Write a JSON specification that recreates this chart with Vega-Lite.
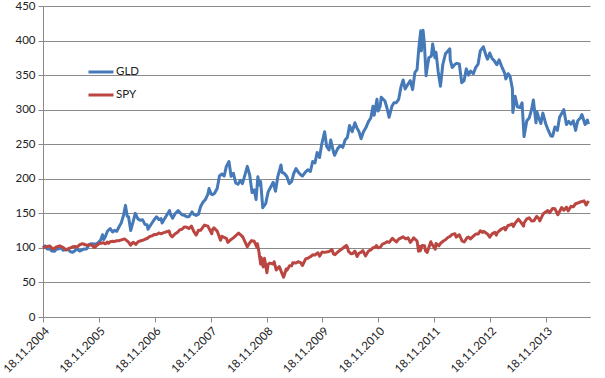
{
  "$schema": "https://vega.github.io/schema/vega-lite/v6.json",
  "width": 547,
  "height": 311,
  "autosize": {"type": "none"},
  "padding": {"left": 43, "top": 6, "right": 15, "bottom": 61},
  "background": "white",
  "config": {
    "view": {"stroke": null},
    "font": "Lato",
    "axis": {"labelFont": "Lato", "labelFontSize": 11.5, "labelColor": "#222", "domainColor": "#8a8a8a", "tickColor": "#8a8a8a", "gridColor": "#8a8a8a", "tickSize": 5, "title": null}
  },
  "data": {"values": [
    {"date":"2004-11-18","ticker":"GLD","value":100},
    {"date":"2004-12-01","ticker":"GLD","value":103},
    {"date":"2004-12-15","ticker":"GLD","value":98.5},
    {"date":"2004-12-31","ticker":"GLD","value":98.7},
    {"date":"2005-01-14","ticker":"GLD","value":95.5},
    {"date":"2005-01-31","ticker":"GLD","value":95},
    {"date":"2005-02-15","ticker":"GLD","value":98.5},
    {"date":"2005-02-28","ticker":"GLD","value":98.5},
    {"date":"2005-03-11","ticker":"GLD","value":100.5},
    {"date":"2005-03-31","ticker":"GLD","value":96.5},
    {"date":"2005-04-15","ticker":"GLD","value":97.5},
    {"date":"2005-04-29","ticker":"GLD","value":98},
    {"date":"2005-05-16","ticker":"GLD","value":94.5},
    {"date":"2005-05-31","ticker":"GLD","value":93.7},
    {"date":"2005-06-15","ticker":"GLD","value":96},
    {"date":"2005-06-24","ticker":"GLD","value":99},
    {"date":"2005-07-15","ticker":"GLD","value":95.5},
    {"date":"2005-07-29","ticker":"GLD","value":96.7},
    {"date":"2005-08-15","ticker":"GLD","value":98.5},
    {"date":"2005-08-31","ticker":"GLD","value":98.5},
    {"date":"2005-09-15","ticker":"GLD","value":105},
    {"date":"2005-09-30","ticker":"GLD","value":106},
    {"date":"2005-10-14","ticker":"GLD","value":105.5},
    {"date":"2005-10-31","ticker":"GLD","value":105.7},
    {"date":"2005-11-15","ticker":"GLD","value":108},
    {"date":"2005-11-30","ticker":"GLD","value":111.5},
    {"date":"2005-12-12","ticker":"GLD","value":119},
    {"date":"2005-12-20","ticker":"GLD","value":112},
    {"date":"2005-12-30","ticker":"GLD","value":116},
    {"date":"2006-01-13","ticker":"GLD","value":124},
    {"date":"2006-01-31","ticker":"GLD","value":128},
    {"date":"2006-02-15","ticker":"GLD","value":123},
    {"date":"2006-02-28","ticker":"GLD","value":125.5},
    {"date":"2006-03-15","ticker":"GLD","value":124},
    {"date":"2006-03-31","ticker":"GLD","value":131},
    {"date":"2006-04-13","ticker":"GLD","value":136},
    {"date":"2006-04-28","ticker":"GLD","value":147},
    {"date":"2006-05-11","ticker":"GLD","value":161.5},
    {"date":"2006-05-22","ticker":"GLD","value":146},
    {"date":"2006-05-31","ticker":"GLD","value":145},
    {"date":"2006-06-14","ticker":"GLD","value":125},
    {"date":"2006-06-30","ticker":"GLD","value":138},
    {"date":"2006-07-14","ticker":"GLD","value":150},
    {"date":"2006-07-31","ticker":"GLD","value":142},
    {"date":"2006-08-15","ticker":"GLD","value":140},
    {"date":"2006-08-31","ticker":"GLD","value":140.6},
    {"date":"2006-09-15","ticker":"GLD","value":134},
    {"date":"2006-09-29","ticker":"GLD","value":133.6},
    {"date":"2006-10-05","ticker":"GLD","value":127},
    {"date":"2006-10-31","ticker":"GLD","value":136},
    {"date":"2006-11-15","ticker":"GLD","value":141},
    {"date":"2006-11-30","ticker":"GLD","value":145},
    {"date":"2006-12-15","ticker":"GLD","value":141},
    {"date":"2006-12-29","ticker":"GLD","value":142.4},
    {"date":"2007-01-05","ticker":"GLD","value":136},
    {"date":"2007-01-31","ticker":"GLD","value":145.8},
    {"date":"2007-02-23","ticker":"GLD","value":154},
    {"date":"2007-02-28","ticker":"GLD","value":149},
    {"date":"2007-03-15","ticker":"GLD","value":143},
    {"date":"2007-03-30","ticker":"GLD","value":149},
    {"date":"2007-04-20","ticker":"GLD","value":154},
    {"date":"2007-04-30","ticker":"GLD","value":151.4},
    {"date":"2007-05-15","ticker":"GLD","value":148},
    {"date":"2007-05-31","ticker":"GLD","value":147},
    {"date":"2007-06-15","ticker":"GLD","value":145},
    {"date":"2007-06-29","ticker":"GLD","value":145},
    {"date":"2007-07-20","ticker":"GLD","value":152},
    {"date":"2007-07-31","ticker":"GLD","value":148.5},
    {"date":"2007-08-16","ticker":"GLD","value":147},
    {"date":"2007-08-31","ticker":"GLD","value":148.7},
    {"date":"2007-09-14","ticker":"GLD","value":160},
    {"date":"2007-09-28","ticker":"GLD","value":165.6},
    {"date":"2007-10-15","ticker":"GLD","value":170},
    {"date":"2007-10-31","ticker":"GLD","value":177.6},
    {"date":"2007-11-08","ticker":"GLD","value":186},
    {"date":"2007-11-21","ticker":"GLD","value":178},
    {"date":"2007-11-30","ticker":"GLD","value":177},
    {"date":"2007-12-14","ticker":"GLD","value":179},
    {"date":"2007-12-31","ticker":"GLD","value":186},
    {"date":"2008-01-15","ticker":"GLD","value":204},
    {"date":"2008-01-31","ticker":"GLD","value":207},
    {"date":"2008-02-15","ticker":"GLD","value":204},
    {"date":"2008-02-29","ticker":"GLD","value":218},
    {"date":"2008-03-17","ticker":"GLD","value":225},
    {"date":"2008-03-31","ticker":"GLD","value":203.7},
    {"date":"2008-04-15","ticker":"GLD","value":208},
    {"date":"2008-04-30","ticker":"GLD","value":194},
    {"date":"2008-05-15","ticker":"GLD","value":192},
    {"date":"2008-05-30","ticker":"GLD","value":197.6},
    {"date":"2008-06-13","ticker":"GLD","value":193},
    {"date":"2008-06-30","ticker":"GLD","value":206},
    {"date":"2008-07-15","ticker":"GLD","value":218},
    {"date":"2008-07-31","ticker":"GLD","value":204.8},
    {"date":"2008-08-15","ticker":"GLD","value":180},
    {"date":"2008-08-29","ticker":"GLD","value":184},
    {"date":"2008-09-10","ticker":"GLD","value":170},
    {"date":"2008-09-22","ticker":"GLD","value":203},
    {"date":"2008-09-30","ticker":"GLD","value":191},
    {"date":"2008-10-10","ticker":"GLD","value":196},
    {"date":"2008-10-24","ticker":"GLD","value":158},
    {"date":"2008-10-31","ticker":"GLD","value":160.6},
    {"date":"2008-11-12","ticker":"GLD","value":164},
    {"date":"2008-11-28","ticker":"GLD","value":181},
    {"date":"2008-12-15","ticker":"GLD","value":188},
    {"date":"2008-12-31","ticker":"GLD","value":195},
    {"date":"2009-01-15","ticker":"GLD","value":182},
    {"date":"2009-01-30","ticker":"GLD","value":203},
    {"date":"2009-02-20","ticker":"GLD","value":220},
    {"date":"2009-02-27","ticker":"GLD","value":209},
    {"date":"2009-03-13","ticker":"GLD","value":208},
    {"date":"2009-03-31","ticker":"GLD","value":203},
    {"date":"2009-04-15","ticker":"GLD","value":193},
    {"date":"2009-04-30","ticker":"GLD","value":196},
    {"date":"2009-05-15","ticker":"GLD","value":208},
    {"date":"2009-05-29","ticker":"GLD","value":214.7},
    {"date":"2009-06-15","ticker":"GLD","value":209},
    {"date":"2009-06-30","ticker":"GLD","value":205.5},
    {"date":"2009-07-10","ticker":"GLD","value":204},
    {"date":"2009-07-31","ticker":"GLD","value":210},
    {"date":"2009-08-14","ticker":"GLD","value":213},
    {"date":"2009-08-31","ticker":"GLD","value":210.5},
    {"date":"2009-09-15","ticker":"GLD","value":225},
    {"date":"2009-09-30","ticker":"GLD","value":222.8},
    {"date":"2009-10-14","ticker":"GLD","value":238},
    {"date":"2009-10-30","ticker":"GLD","value":230.7},
    {"date":"2009-11-13","ticker":"GLD","value":250},
    {"date":"2009-12-02","ticker":"GLD","value":268},
    {"date":"2009-12-15","ticker":"GLD","value":247},
    {"date":"2009-12-31","ticker":"GLD","value":241.8},
    {"date":"2010-01-11","ticker":"GLD","value":256},
    {"date":"2010-01-29","ticker":"GLD","value":238.8},
    {"date":"2010-02-05","ticker":"GLD","value":234},
    {"date":"2010-02-26","ticker":"GLD","value":244},
    {"date":"2010-03-15","ticker":"GLD","value":248},
    {"date":"2010-03-31","ticker":"GLD","value":245.5},
    {"date":"2010-04-15","ticker":"GLD","value":256},
    {"date":"2010-04-30","ticker":"GLD","value":260},
    {"date":"2010-05-14","ticker":"GLD","value":277},
    {"date":"2010-05-31","ticker":"GLD","value":268},
    {"date":"2010-06-18","ticker":"GLD","value":281},
    {"date":"2010-06-30","ticker":"GLD","value":274},
    {"date":"2010-07-15","ticker":"GLD","value":268},
    {"date":"2010-07-28","ticker":"GLD","value":258},
    {"date":"2010-08-13","ticker":"GLD","value":268},
    {"date":"2010-08-31","ticker":"GLD","value":275},
    {"date":"2010-09-15","ticker":"GLD","value":283},
    {"date":"2010-09-30","ticker":"GLD","value":288},
    {"date":"2010-10-14","ticker":"GLD","value":305},
    {"date":"2010-10-22","ticker":"GLD","value":292},
    {"date":"2010-11-09","ticker":"GLD","value":315},
    {"date":"2010-11-16","ticker":"GLD","value":298},
    {"date":"2010-11-30","ticker":"GLD","value":305},
    {"date":"2010-12-07","ticker":"GLD","value":318},
    {"date":"2010-12-31","ticker":"GLD","value":312.5},
    {"date":"2011-01-14","ticker":"GLD","value":302},
    {"date":"2011-01-27","ticker":"GLD","value":289},
    {"date":"2011-02-15","ticker":"GLD","value":305},
    {"date":"2011-02-28","ticker":"GLD","value":310},
    {"date":"2011-03-15","ticker":"GLD","value":310},
    {"date":"2011-03-31","ticker":"GLD","value":315},
    {"date":"2011-04-15","ticker":"GLD","value":333},
    {"date":"2011-04-29","ticker":"GLD","value":343},
    {"date":"2011-05-12","ticker":"GLD","value":330},
    {"date":"2011-05-31","ticker":"GLD","value":337},
    {"date":"2011-06-15","ticker":"GLD","value":342},
    {"date":"2011-06-30","ticker":"GLD","value":329},
    {"date":"2011-07-15","ticker":"GLD","value":354},
    {"date":"2011-07-29","ticker":"GLD","value":358},
    {"date":"2011-08-10","ticker":"GLD","value":390},
    {"date":"2011-08-22","ticker":"GLD","value":414},
    {"date":"2011-08-26","ticker":"GLD","value":385},
    {"date":"2011-09-06","ticker":"GLD","value":415},
    {"date":"2011-09-15","ticker":"GLD","value":395},
    {"date":"2011-09-26","ticker":"GLD","value":349},
    {"date":"2011-09-30","ticker":"GLD","value":356},
    {"date":"2011-10-14","ticker":"GLD","value":375},
    {"date":"2011-10-31","ticker":"GLD","value":377.7},
    {"date":"2011-11-08","ticker":"GLD","value":395},
    {"date":"2011-11-23","ticker":"GLD","value":375},
    {"date":"2011-11-30","ticker":"GLD","value":383},
    {"date":"2011-12-14","ticker":"GLD","value":355},
    {"date":"2011-12-29","ticker":"GLD","value":334},
    {"date":"2012-01-13","ticker":"GLD","value":365},
    {"date":"2012-01-31","ticker":"GLD","value":381},
    {"date":"2012-02-28","ticker":"GLD","value":388},
    {"date":"2012-03-02","ticker":"GLD","value":372},
    {"date":"2012-03-15","ticker":"GLD","value":361},
    {"date":"2012-03-30","ticker":"GLD","value":365},
    {"date":"2012-04-13","ticker":"GLD","value":367},
    {"date":"2012-04-30","ticker":"GLD","value":366},
    {"date":"2012-05-16","ticker":"GLD","value":339},
    {"date":"2012-05-31","ticker":"GLD","value":342},
    {"date":"2012-06-15","ticker":"GLD","value":359},
    {"date":"2012-06-29","ticker":"GLD","value":350},
    {"date":"2012-07-13","ticker":"GLD","value":356},
    {"date":"2012-07-31","ticker":"GLD","value":352},
    {"date":"2012-08-15","ticker":"GLD","value":361},
    {"date":"2012-08-31","ticker":"GLD","value":366},
    {"date":"2012-09-14","ticker":"GLD","value":385},
    {"date":"2012-10-04","ticker":"GLD","value":391},
    {"date":"2012-10-22","ticker":"GLD","value":378},
    {"date":"2012-10-31","ticker":"GLD","value":373},
    {"date":"2012-11-15","ticker":"GLD","value":382},
    {"date":"2012-11-30","ticker":"GLD","value":374},
    {"date":"2012-12-14","ticker":"GLD","value":371},
    {"date":"2012-12-31","ticker":"GLD","value":365},
    {"date":"2013-01-15","ticker":"GLD","value":372},
    {"date":"2013-01-31","ticker":"GLD","value":363},
    {"date":"2013-02-20","ticker":"GLD","value":353},
    {"date":"2013-02-28","ticker":"GLD","value":344.5},
    {"date":"2013-03-15","ticker":"GLD","value":352},
    {"date":"2013-03-28","ticker":"GLD","value":348},
    {"date":"2013-04-12","ticker":"GLD","value":330},
    {"date":"2013-04-15","ticker":"GLD","value":296},
    {"date":"2013-04-30","ticker":"GLD","value":319.5},
    {"date":"2013-05-15","ticker":"GLD","value":304},
    {"date":"2013-05-31","ticker":"GLD","value":303},
    {"date":"2013-06-14","ticker":"GLD","value":310},
    {"date":"2013-06-27","ticker":"GLD","value":261},
    {"date":"2013-07-15","ticker":"GLD","value":284},
    {"date":"2013-07-31","ticker":"GLD","value":288},
    {"date":"2013-08-15","ticker":"GLD","value":300},
    {"date":"2013-08-27","ticker":"GLD","value":314},
    {"date":"2013-09-13","ticker":"GLD","value":281},
    {"date":"2013-09-19","ticker":"GLD","value":297},
    {"date":"2013-09-30","ticker":"GLD","value":289},
    {"date":"2013-10-15","ticker":"GLD","value":280},
    {"date":"2013-10-28","ticker":"GLD","value":295},
    {"date":"2013-11-15","ticker":"GLD","value":280},
    {"date":"2013-11-29","ticker":"GLD","value":272},
    {"date":"2013-12-19","ticker":"GLD","value":262},
    {"date":"2013-12-31","ticker":"GLD","value":261.6},
    {"date":"2014-01-15","ticker":"GLD","value":275},
    {"date":"2014-01-31","ticker":"GLD","value":270},
    {"date":"2014-02-14","ticker":"GLD","value":289},
    {"date":"2014-03-14","ticker":"GLD","value":300},
    {"date":"2014-03-31","ticker":"GLD","value":278.5},
    {"date":"2014-04-15","ticker":"GLD","value":283},
    {"date":"2014-04-30","ticker":"GLD","value":279},
    {"date":"2014-05-15","ticker":"GLD","value":284},
    {"date":"2014-05-30","ticker":"GLD","value":270},
    {"date":"2014-06-13","ticker":"GLD","value":284},
    {"date":"2014-06-30","ticker":"GLD","value":288},
    {"date":"2014-07-10","ticker":"GLD","value":293},
    {"date":"2014-07-31","ticker":"GLD","value":278.5},
    {"date":"2014-08-15","ticker":"GLD","value":285},
    {"date":"2014-08-22","ticker":"GLD","value":279},
    {"date":"2004-11-18","ticker":"SPY","value":100},
    {"date":"2004-12-01","ticker":"SPY","value":101},
    {"date":"2004-12-15","ticker":"SPY","value":102},
    {"date":"2004-12-31","ticker":"SPY","value":102.8},
    {"date":"2005-01-14","ticker":"SPY","value":100},
    {"date":"2005-01-24","ticker":"SPY","value":98.5},
    {"date":"2005-02-15","ticker":"SPY","value":101.5},
    {"date":"2005-03-07","ticker":"SPY","value":103},
    {"date":"2005-03-31","ticker":"SPY","value":100.3},
    {"date":"2005-04-20","ticker":"SPY","value":97},
    {"date":"2005-04-29","ticker":"SPY","value":98.5},
    {"date":"2005-05-16","ticker":"SPY","value":100},
    {"date":"2005-05-31","ticker":"SPY","value":101.6},
    {"date":"2005-06-15","ticker":"SPY","value":102},
    {"date":"2005-06-30","ticker":"SPY","value":101.4},
    {"date":"2005-07-15","ticker":"SPY","value":104.5},
    {"date":"2005-08-03","ticker":"SPY","value":106},
    {"date":"2005-08-31","ticker":"SPY","value":103.8},
    {"date":"2005-09-15","ticker":"SPY","value":104},
    {"date":"2005-09-30","ticker":"SPY","value":104.6},
    {"date":"2005-10-20","ticker":"SPY","value":100.5},
    {"date":"2005-10-31","ticker":"SPY","value":102.7},
    {"date":"2005-11-15","ticker":"SPY","value":105.5},
    {"date":"2005-11-30","ticker":"SPY","value":106.8},
    {"date":"2005-12-15","ticker":"SPY","value":107.5},
    {"date":"2005-12-30","ticker":"SPY","value":105.9},
    {"date":"2006-01-13","ticker":"SPY","value":108.5},
    {"date":"2006-01-20","ticker":"SPY","value":106.5},
    {"date":"2006-01-31","ticker":"SPY","value":108.9},
    {"date":"2006-02-15","ticker":"SPY","value":109.5},
    {"date":"2006-02-28","ticker":"SPY","value":109.1},
    {"date":"2006-03-15","ticker":"SPY","value":110.5},
    {"date":"2006-03-31","ticker":"SPY","value":110.4},
    {"date":"2006-04-20","ticker":"SPY","value":112},
    {"date":"2006-05-05","ticker":"SPY","value":113},
    {"date":"2006-05-31","ticker":"SPY","value":108.4},
    {"date":"2006-06-13","ticker":"SPY","value":104},
    {"date":"2006-06-30","ticker":"SPY","value":108.2},
    {"date":"2006-07-17","ticker":"SPY","value":105},
    {"date":"2006-07-31","ticker":"SPY","value":108.6},
    {"date":"2006-08-15","ticker":"SPY","value":110},
    {"date":"2006-08-31","ticker":"SPY","value":111},
    {"date":"2006-09-15","ticker":"SPY","value":112.5},
    {"date":"2006-09-29","ticker":"SPY","value":113.6},
    {"date":"2006-10-16","ticker":"SPY","value":116.5},
    {"date":"2006-10-31","ticker":"SPY","value":117.4},
    {"date":"2006-11-17","ticker":"SPY","value":119.5},
    {"date":"2006-11-30","ticker":"SPY","value":119.5},
    {"date":"2006-12-15","ticker":"SPY","value":121.5},
    {"date":"2006-12-29","ticker":"SPY","value":120.4},
    {"date":"2007-01-16","ticker":"SPY","value":122},
    {"date":"2007-02-20","ticker":"SPY","value":124.5},
    {"date":"2007-02-28","ticker":"SPY","value":118.7},
    {"date":"2007-03-13","ticker":"SPY","value":116},
    {"date":"2007-03-30","ticker":"SPY","value":120},
    {"date":"2007-04-16","ticker":"SPY","value":122.5},
    {"date":"2007-04-30","ticker":"SPY","value":126},
    {"date":"2007-05-15","ticker":"SPY","value":127},
    {"date":"2007-05-31","ticker":"SPY","value":130.4},
    {"date":"2007-06-15","ticker":"SPY","value":130},
    {"date":"2007-06-29","ticker":"SPY","value":127.9},
    {"date":"2007-07-16","ticker":"SPY","value":131.5},
    {"date":"2007-07-31","ticker":"SPY","value":123.9},
    {"date":"2007-08-16","ticker":"SPY","value":118.5},
    {"date":"2007-08-31","ticker":"SPY","value":125.5},
    {"date":"2007-09-14","ticker":"SPY","value":125.5},
    {"date":"2007-09-28","ticker":"SPY","value":129.8},
    {"date":"2007-10-09","ticker":"SPY","value":133},
    {"date":"2007-10-31","ticker":"SPY","value":131.5},
    {"date":"2007-11-26","ticker":"SPY","value":120.5},
    {"date":"2007-11-30","ticker":"SPY","value":126.4},
    {"date":"2007-12-10","ticker":"SPY","value":129},
    {"date":"2007-12-31","ticker":"SPY","value":124.3},
    {"date":"2008-01-22","ticker":"SPY","value":111},
    {"date":"2008-01-31","ticker":"SPY","value":116.8},
    {"date":"2008-02-15","ticker":"SPY","value":115},
    {"date":"2008-02-29","ticker":"SPY","value":113.8},
    {"date":"2008-03-10","ticker":"SPY","value":108},
    {"date":"2008-03-31","ticker":"SPY","value":112.2},
    {"date":"2008-04-15","ticker":"SPY","value":114.5},
    {"date":"2008-04-30","ticker":"SPY","value":117.6},
    {"date":"2008-05-19","ticker":"SPY","value":121.5},
    {"date":"2008-05-30","ticker":"SPY","value":119.3},
    {"date":"2008-06-16","ticker":"SPY","value":115.5},
    {"date":"2008-06-30","ticker":"SPY","value":108.8},
    {"date":"2008-07-15","ticker":"SPY","value":101.5},
    {"date":"2008-07-31","ticker":"SPY","value":107.5},
    {"date":"2008-08-11","ticker":"SPY","value":110.5},
    {"date":"2008-08-29","ticker":"SPY","value":109.5},
    {"date":"2008-09-15","ticker":"SPY","value":101},
    {"date":"2008-09-19","ticker":"SPY","value":106},
    {"date":"2008-09-29","ticker":"SPY","value":94},
    {"date":"2008-10-10","ticker":"SPY","value":76.5},
    {"date":"2008-10-13","ticker":"SPY","value":86},
    {"date":"2008-10-27","ticker":"SPY","value":72.5},
    {"date":"2008-11-04","ticker":"SPY","value":85},
    {"date":"2008-11-20","ticker":"SPY","value":64},
    {"date":"2008-11-28","ticker":"SPY","value":76.4},
    {"date":"2008-12-08","ticker":"SPY","value":78},
    {"date":"2008-12-31","ticker":"SPY","value":76.7},
    {"date":"2009-01-06","ticker":"SPY","value":80},
    {"date":"2009-01-20","ticker":"SPY","value":68},
    {"date":"2009-01-30","ticker":"SPY","value":70.4},
    {"date":"2009-02-09","ticker":"SPY","value":73},
    {"date":"2009-02-27","ticker":"SPY","value":62.8},
    {"date":"2009-03-09","ticker":"SPY","value":57.6},
    {"date":"2009-03-26","ticker":"SPY","value":69.5},
    {"date":"2009-03-31","ticker":"SPY","value":67.6},
    {"date":"2009-04-17","ticker":"SPY","value":74},
    {"date":"2009-04-30","ticker":"SPY","value":74},
    {"date":"2009-05-08","ticker":"SPY","value":78.5},
    {"date":"2009-05-29","ticker":"SPY","value":78.1},
    {"date":"2009-06-12","ticker":"SPY","value":80},
    {"date":"2009-06-30","ticker":"SPY","value":78.2},
    {"date":"2009-07-10","ticker":"SPY","value":74.5},
    {"date":"2009-07-31","ticker":"SPY","value":84},
    {"date":"2009-08-14","ticker":"SPY","value":85},
    {"date":"2009-08-31","ticker":"SPY","value":87.2},
    {"date":"2009-09-15","ticker":"SPY","value":90},
    {"date":"2009-09-30","ticker":"SPY","value":89.8},
    {"date":"2009-10-19","ticker":"SPY","value":93},
    {"date":"2009-10-30","ticker":"SPY","value":88.1},
    {"date":"2009-11-16","ticker":"SPY","value":94},
    {"date":"2009-11-30","ticker":"SPY","value":93.5},
    {"date":"2009-12-15","ticker":"SPY","value":94},
    {"date":"2009-12-31","ticker":"SPY","value":94.7},
    {"date":"2010-01-19","ticker":"SPY","value":97.5},
    {"date":"2010-01-29","ticker":"SPY","value":91.3},
    {"date":"2010-02-08","ticker":"SPY","value":90.2},
    {"date":"2010-02-26","ticker":"SPY","value":94.1},
    {"date":"2010-03-15","ticker":"SPY","value":97},
    {"date":"2010-03-31","ticker":"SPY","value":99.5},
    {"date":"2010-04-23","ticker":"SPY","value":103.6},
    {"date":"2010-04-30","ticker":"SPY","value":101},
    {"date":"2010-05-07","ticker":"SPY","value":95},
    {"date":"2010-05-25","ticker":"SPY","value":91.5},
    {"date":"2010-06-04","ticker":"SPY","value":92},
    {"date":"2010-06-18","ticker":"SPY","value":95.5},
    {"date":"2010-07-02","ticker":"SPY","value":87.5},
    {"date":"2010-07-15","ticker":"SPY","value":92.5},
    {"date":"2010-07-30","ticker":"SPY","value":93.8},
    {"date":"2010-08-09","ticker":"SPY","value":96},
    {"date":"2010-08-26","ticker":"SPY","value":88.5},
    {"date":"2010-09-15","ticker":"SPY","value":95.5},
    {"date":"2010-09-30","ticker":"SPY","value":97},
    {"date":"2010-10-15","ticker":"SPY","value":100.3},
    {"date":"2010-10-29","ticker":"SPY","value":100.8},
    {"date":"2010-11-05","ticker":"SPY","value":103.5},
    {"date":"2010-11-16","ticker":"SPY","value":100},
    {"date":"2010-11-30","ticker":"SPY","value":100.8},
    {"date":"2010-12-15","ticker":"SPY","value":105.5},
    {"date":"2010-12-31","ticker":"SPY","value":106.9},
    {"date":"2011-01-14","ticker":"SPY","value":109},
    {"date":"2011-01-28","ticker":"SPY","value":108},
    {"date":"2011-02-18","ticker":"SPY","value":113.9},
    {"date":"2011-03-16","ticker":"SPY","value":108.5},
    {"date":"2011-03-31","ticker":"SPY","value":112.7},
    {"date":"2011-04-29","ticker":"SPY","value":116},
    {"date":"2011-05-16","ticker":"SPY","value":113},
    {"date":"2011-05-31","ticker":"SPY","value":114.5},
    {"date":"2011-06-15","ticker":"SPY","value":108},
    {"date":"2011-06-30","ticker":"SPY","value":112.2},
    {"date":"2011-07-07","ticker":"SPY","value":114.5},
    {"date":"2011-07-29","ticker":"SPY","value":110},
    {"date":"2011-08-08","ticker":"SPY","value":95},
    {"date":"2011-08-16","ticker":"SPY","value":102},
    {"date":"2011-08-19","ticker":"SPY","value":96},
    {"date":"2011-08-31","ticker":"SPY","value":103.5},
    {"date":"2011-09-16","ticker":"SPY","value":103},
    {"date":"2011-09-22","ticker":"SPY","value":95.8},
    {"date":"2011-10-03","ticker":"SPY","value":93.4},
    {"date":"2011-10-27","ticker":"SPY","value":109},
    {"date":"2011-10-31","ticker":"SPY","value":106.7},
    {"date":"2011-11-25","ticker":"SPY","value":98},
    {"date":"2011-11-30","ticker":"SPY","value":106.3},
    {"date":"2011-12-19","ticker":"SPY","value":103},
    {"date":"2011-12-30","ticker":"SPY","value":106.7},
    {"date":"2012-01-17","ticker":"SPY","value":110},
    {"date":"2012-01-31","ticker":"SPY","value":111.7},
    {"date":"2012-02-15","ticker":"SPY","value":115},
    {"date":"2012-02-29","ticker":"SPY","value":116.5},
    {"date":"2012-03-15","ticker":"SPY","value":119.5},
    {"date":"2012-04-02","ticker":"SPY","value":120.5},
    {"date":"2012-04-10","ticker":"SPY","value":115.5},
    {"date":"2012-04-30","ticker":"SPY","value":119},
    {"date":"2012-05-18","ticker":"SPY","value":110},
    {"date":"2012-06-01","ticker":"SPY","value":108.5},
    {"date":"2012-06-19","ticker":"SPY","value":114.5},
    {"date":"2012-06-29","ticker":"SPY","value":115.7},
    {"date":"2012-07-12","ticker":"SPY","value":113},
    {"date":"2012-07-31","ticker":"SPY","value":117.1},
    {"date":"2012-08-15","ticker":"SPY","value":120},
    {"date":"2012-08-31","ticker":"SPY","value":120},
    {"date":"2012-09-14","ticker":"SPY","value":124.8},
    {"date":"2012-09-28","ticker":"SPY","value":122.4},
    {"date":"2012-10-05","ticker":"SPY","value":124},
    {"date":"2012-10-31","ticker":"SPY","value":120.2},
    {"date":"2012-11-15","ticker":"SPY","value":115.4},
    {"date":"2012-11-30","ticker":"SPY","value":120.3},
    {"date":"2012-12-18","ticker":"SPY","value":122.5},
    {"date":"2012-12-28","ticker":"SPY","value":118.5},
    {"date":"2012-12-31","ticker":"SPY","value":121.1},
    {"date":"2013-01-15","ticker":"SPY","value":124.5},
    {"date":"2013-01-31","ticker":"SPY","value":127.3},
    {"date":"2013-02-19","ticker":"SPY","value":129.5},
    {"date":"2013-02-25","ticker":"SPY","value":126},
    {"date":"2013-03-14","ticker":"SPY","value":132.5},
    {"date":"2013-03-28","ticker":"SPY","value":133.2},
    {"date":"2013-04-11","ticker":"SPY","value":134.6},
    {"date":"2013-04-18","ticker":"SPY","value":131},
    {"date":"2013-04-30","ticker":"SPY","value":135.8},
    {"date":"2013-05-21","ticker":"SPY","value":141.5},
    {"date":"2013-05-31","ticker":"SPY","value":139},
    {"date":"2013-06-24","ticker":"SPY","value":131.5},
    {"date":"2013-06-28","ticker":"SPY","value":136.4},
    {"date":"2013-07-15","ticker":"SPY","value":142},
    {"date":"2013-07-31","ticker":"SPY","value":143.5},
    {"date":"2013-08-15","ticker":"SPY","value":139},
    {"date":"2013-08-30","ticker":"SPY","value":139.2},
    {"date":"2013-09-18","ticker":"SPY","value":145.5},
    {"date":"2013-09-30","ticker":"SPY","value":142.9},
    {"date":"2013-10-08","ticker":"SPY","value":139},
    {"date":"2013-10-31","ticker":"SPY","value":149.5},
    {"date":"2013-11-15","ticker":"SPY","value":152},
    {"date":"2013-11-29","ticker":"SPY","value":153.9},
    {"date":"2013-12-12","ticker":"SPY","value":151},
    {"date":"2013-12-31","ticker":"SPY","value":157.1},
    {"date":"2014-01-15","ticker":"SPY","value":156.5},
    {"date":"2014-02-03","ticker":"SPY","value":148},
    {"date":"2014-02-28","ticker":"SPY","value":158.4},
    {"date":"2014-03-14","ticker":"SPY","value":154.5},
    {"date":"2014-03-31","ticker":"SPY","value":159},
    {"date":"2014-04-11","ticker":"SPY","value":153.5},
    {"date":"2014-04-30","ticker":"SPY","value":160.1},
    {"date":"2014-05-15","ticker":"SPY","value":159.5},
    {"date":"2014-05-30","ticker":"SPY","value":163.9},
    {"date":"2014-06-15","ticker":"SPY","value":165},
    {"date":"2014-06-30","ticker":"SPY","value":166.4},
    {"date":"2014-07-24","ticker":"SPY","value":168},
    {"date":"2014-08-07","ticker":"SPY","value":162},
    {"date":"2014-08-22","ticker":"SPY","value":168}
  ]},
  "mark": {"type": "line", "strokeWidth": 3, "strokeJoin": "round"},
  "encoding": {
    "x": {
      "field": "date", "type": "temporal",
      "scale": {"domain": [{"year": 2004, "month": 11, "date": 18}, {"year": 2014, "month": 9, "date": 1}]},
      "axis": {
        "grid": false, "labelAngle": -45, "format": "%d.%m.%Y", "labelPadding": 3,
        "values": [
          {"year": 2004, "month": 11, "date": 18}, {"year": 2005, "month": 11, "date": 18},
          {"year": 2006, "month": 11, "date": 18}, {"year": 2007, "month": 11, "date": 18},
          {"year": 2008, "month": 11, "date": 18}, {"year": 2009, "month": 11, "date": 18},
          {"year": 2010, "month": 11, "date": 18}, {"year": 2011, "month": 11, "date": 18},
          {"year": 2012, "month": 11, "date": 18}, {"year": 2013, "month": 11, "date": 18}
        ]
      }
    },
    "y": {
      "field": "value", "type": "quantitative",
      "scale": {"domain": [0, 450], "nice": false},
      "axis": {"values": [0, 50, 100, 150, 200, 250, 300, 350, 400, 450], "grid": true, "labelPadding": 3}
    },
    "color": {
      "field": "ticker", "type": "nominal",
      "scale": {"domain": ["GLD", "SPY"], "range": ["#4579b8", "#bb4541"]},
      "legend": {
        "orient": "none", "legendX": 44, "legendY": 52, "title": null,
        "symbolType": "stroke", "symbolSize": 625, "symbolStrokeWidth": 3,
        "labelFont": "Lato", "labelFontSize": 11.5, "labelColor": "#222", "labelOffset": 1,
        "rowPadding": 3, "padding": 0
      }
    }
  }
}
